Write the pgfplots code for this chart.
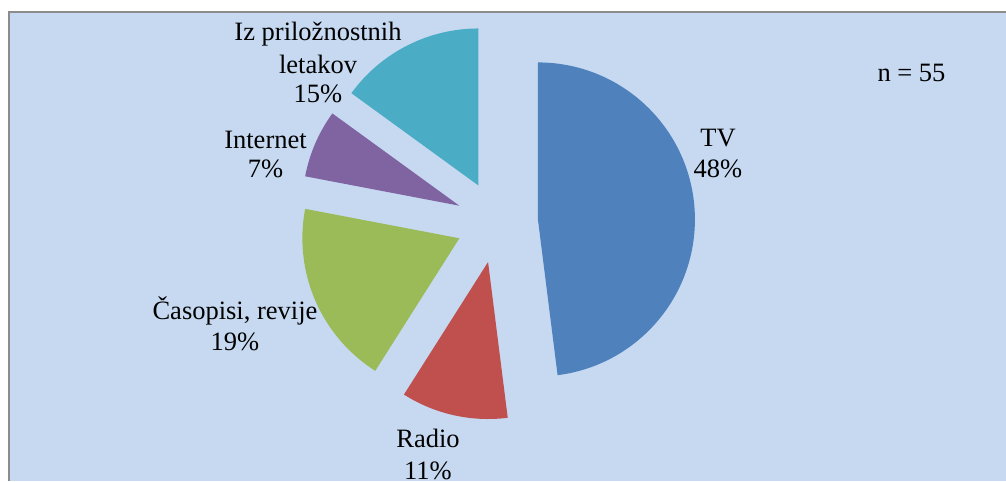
\documentclass[border=0pt]{standalone}
\usepackage{pgfplots}
\pgfplotsset{compat=1.18}
\usepackage{fontspec}
\setmainfont{Liberation Serif}

\definecolor{bgblue}{HTML}{C6D9F1}
\definecolor{frame}{HTML}{8C8C8C}
\definecolor{tvc}{HTML}{4F81BD}
\definecolor{radc}{HTML}{C0504D}
\definecolor{casc}{HTML}{9BBB59}
\definecolor{intc}{HTML}{8064A2}
\definecolor{letc}{HTML}{4BACC6}

\begin{document}
\begin{tikzpicture}
\begin{axis}[
    scale only axis,
    width=1006bp, height=481bp,
    xmin=0, xmax=1006, ymin=0, ymax=481,
    hide axis,
    clip=false,
]
\pgfplotsextra{
  % chart area
  \fill[white] (axis cs:0,0) rectangle (axis cs:1006,481);
  \fill[bgblue] (axis cs:9,0) rectangle (axis cs:1006,469);
  \draw[frame, line width=2bp] (axis cs:9,0) -- (axis cs:9,469) -- (axis cs:1006,469);
  % pie slices: share in %, clockwise from the top, each pulled out along its middle
  \xdef\cum{90}
  \foreach \v/\c in {48/tvc, 11/radc, 19/casc, 7/intc, 15/letc}{
    \pgfmathsetmacro\aa{\cum}
    \pgfmathsetmacro\bb{\cum-3.6*\v}
    \pgfmathsetmacro\mm{(\aa+\bb)/2}
    \fill[\c] (axis cs:497,259) ++(\mm:41bp) -- ++(\aa:157bp)
      arc[start angle=\aa, end angle=\bb, radius=157bp] -- cycle;
    \xdef\cum{\bb}
  }
  \begingroup
  \fontsize{26.5bp}{31.5bp}\selectfont
  \tikzset{every node/.style={anchor=base, inner sep=0pt, text=black}}
  \node at (axis cs:718,334.3) {TV};
  \node at (axis cs:718,303) {48\%};
  \node at (axis cs:428,33.3) {Radio};
  \node at (axis cs:428,2) {11\%};
  \node at (axis cs:235,162) {Časopisi, revije};
  \node at (axis cs:235,131) {19\%};
  \node at (axis cs:265.5,332.7) {Internet};
  \node at (axis cs:265.5,303) {7\%};
  \node at (axis cs:318,440) {Iz priložnostnih};
  \node at (axis cs:318,407.7) {letakov};
  \node at (axis cs:318,378.3) {15\%};
  \node at (axis cs:911.5,399.3) {n = 55};
  \endgroup
}
\end{axis}
\pgfresetboundingbox
\path[use as bounding box] (current axis.south west) rectangle (current axis.north east);
\end{tikzpicture}
\end{document}
